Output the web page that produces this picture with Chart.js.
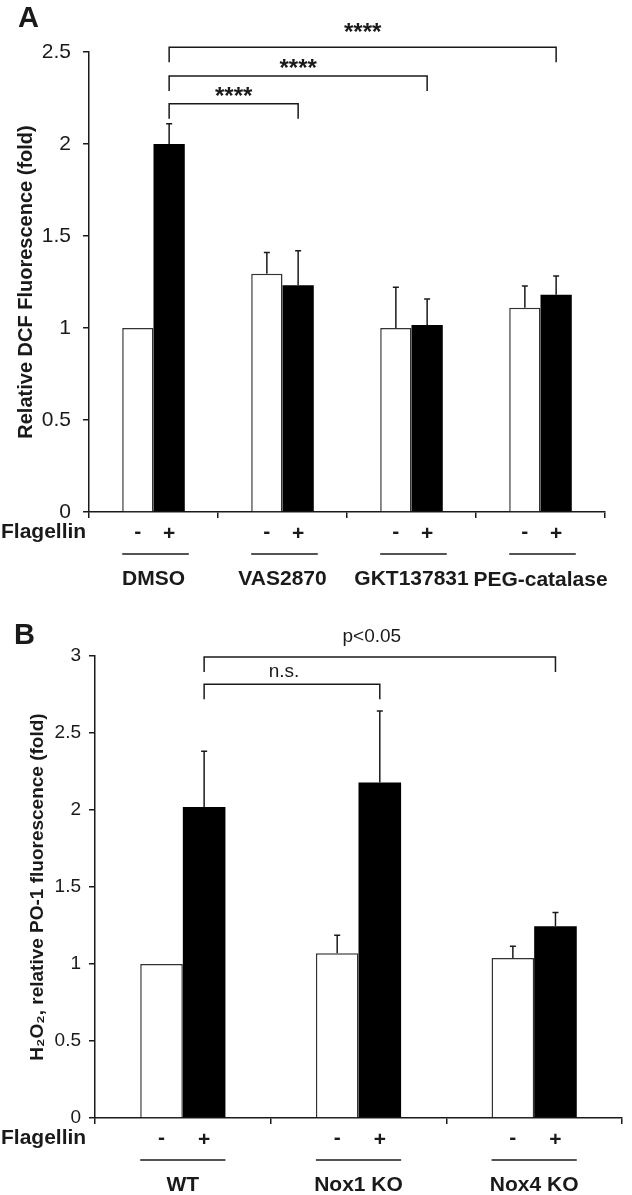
<!DOCTYPE html>
<html>
<head>
<meta charset="utf-8">
<script src="https://cdn.jsdelivr.net/npm/chart.js@4.4.1/dist/chart.umd.min.js"></script>
<style>
  html, body { margin: 0; padding: 0; background: #fff; }
  #wrap { position: relative; width: 632px; height: 1195px; }
  canvas { position: absolute; left: 0; }
  #chartA { top: 0; }
  #chartB { top: 590px; }
</style>
</head>
<body>
<div id="wrap">
  <canvas id="chartA" width="632" height="590"></canvas>
  <canvas id="chartB" width="632" height="605"></canvas>
</div>
<script>
// Panel A – DCF fluorescence, inhibitors
const groupsA = ['DMSO', 'VAS2870', 'GKT137831', 'PEG-catalase'];
const minusA = [1.0, 1.295, 1.0, 1.11];
const plusA = [2.0, 1.232, 1.016, 1.181];
const minusErrA = [0, 0.115, 0.221, 0.118];
const plusErrA = [0.11, 0.188, 0.142, 0.102];
const ticksA = [0, 0.5, 1, 1.5, 2, 2.5];
const bracketToA = [1, 2, 3];          // compared against DMSO +
const bracketLevelA = [2.219, 2.37, 2.526];
const textLevelA = [2.288, 2.435, 2.632];
const bracketTextA = ['****', '****', '****'];

// Panel B – PO-1 fluorescence, knockouts
const groupsB = ['WT', 'Nox1 KO', 'Nox4 KO'];
const minusB = [1.0, 1.07, 1.039];
const plusB = [2.02, 2.178, 1.245];
const minusErrB = [0, 0.116, 0.076];
const plusErrB = [0.361, 0.465, 0.089];
const ticksB = [0, 0.5, 1, 1.5, 2, 2.5, 3];
const bracketToB = [1, 2];             // compared against WT +
const bracketLevelB = [2.816, 2.994];
const textLevelB = [2.896, 3.123];
const bracketTextB = ['n.s.', 'p<0.05'];

const INK = '#1a1a1a';
const FONT = "'Liberation Sans', Arial, Helvetica, sans-serif";
Chart.defaults.font.family = FONT;
Chart.defaults.color = INK;

function centeredText(ctx, text, x, cy) {
    const m = ctx.measureText(text);
    const base = cy + (m.actualBoundingBoxAscent - m.actualBoundingBoxDescent) / 2;
    ctx.textBaseline = 'alphabetic';
    ctx.fillText(text, x, base);
}

function overlayPlugin(p) {
    return {
        id: 'overlay' + p.name,
        afterDatasetsDraw(chart) {
            const ctx = chart.ctx;
            const xs = chart.scales.x, ys = chart.scales.y;
            const minusBars = chart.getDatasetMeta(0).data;
            const plusBars = chart.getDatasetMeta(1).data;
            ctx.save();
            ctx.strokeStyle = INK;
            ctx.fillStyle = INK;
            ctx.lineWidth = 1.5;

            // upper error bars
            [[minusBars, p.minus, p.minusErr], [plusBars, p.plus, p.plusErr]].forEach(([bars, vals, errs]) => {
                bars.forEach((bar, i) => {
                    if (!errs[i]) return;
                    const top = ys.getPixelForValue(vals[i] + errs[i]);
                    ctx.beginPath();
                    ctx.moveTo(bar.x, bar.y);
                    ctx.lineTo(bar.x, top);
                    ctx.moveTo(bar.x - 3, top);
                    ctx.lineTo(bar.x + 3, top);
                    ctx.stroke();
                });
            });

            // significance brackets
            const x0 = plusBars[0].x;
            p.bracketTo.forEach((to, i) => {
                const x1 = plusBars[to].x;
                const yb = ys.getPixelForValue(p.bracketLevel[i]);
                ctx.beginPath();
                ctx.moveTo(x0, yb + 15);
                ctx.lineTo(x0, yb);
                ctx.lineTo(x1, yb);
                ctx.lineTo(x1, yb + 15);
                ctx.stroke();
                ctx.font = p.starFont;
                ctx.textAlign = 'center';
                centeredText(ctx, p.bracketText[i], (x0 + x1) / 2 + p.textShift, ys.getPixelForValue(p.textLevel[i]));
            });

            // treatment rows under the axis
            const axisY = ys.bottom;
            ctx.font = 'bold 21px ' + FONT;
            ctx.textAlign = 'left';
            centeredText(ctx, 'Flagellin', 1, axisY + 20);
            ctx.textAlign = 'center';
            minusBars.forEach((bar, i) => {
                const pb = plusBars[i];
                centeredText(ctx, '-', bar.x, axisY + 20);
                centeredText(ctx, '+', pb.x, axisY + 20);
                ctx.beginPath();
                ctx.moveTo(bar.x - bar.width / 2, axisY + 42);
                ctx.lineTo(pb.x + pb.width / 2 + p.lineExtra, axisY + 42);
                ctx.stroke();
                centeredText(ctx, p.groups[i], xs.getPixelForValue(i), axisY + 66);
            });

            // panel letter
            ctx.font = 'bold 29px ' + FONT;
            ctx.textAlign = 'left';
            centeredText(ctx, p.name, p.letterX, p.letterY);
            ctx.restore();
        }
    };
}

function buildChart(id, p) {
    const ctx = document.getElementById(id).getContext('2d');
    return new Chart(ctx, {
        type: 'bar',
        data: {
            labels: p.groups,
            datasets: [
                { label: '-', data: p.minus, backgroundColor: '#ffffff', borderColor: '#333', borderWidth: 1.5 },
                { label: '+', data: p.plus, backgroundColor: '#000000', borderColor: '#000', borderWidth: 0 }
            ]
        },
        options: {
            responsive: false,
            animation: false,
            devicePixelRatio: 1,
            layout: { padding: { top: p.padTop, right: p.padRight, left: 0, bottom: 0 } },
            datasets: { bar: { categoryPercentage: 0.485, barPercentage: 1.0 } },
            scales: {
                x: {
                    grid: { offset: true, drawOnChartArea: false, drawTicks: true, tickLength: 6, color: INK, lineWidth: 1.5 },
                    border: { color: INK, width: 1.5 },
                    ticks: { display: false },
                    afterFit: s => { s.height = p.xHeight; }
                },
                y: {
                    min: 0,
                    max: p.ticks[p.ticks.length - 1],
                    afterBuildTicks: s => { s.ticks = p.ticks.map(v => ({ value: v })); },
                    grid: { drawOnChartArea: false, drawTicks: true, tickLength: 6, color: INK, lineWidth: 1.5 },
                    border: { color: INK, width: 1.5 },
                    ticks: { font: { size: p.tickSize }, color: INK, padding: p.tickPad, callback: v => String(v) },
                    title: {
                        display: true,
                        text: p.title,
                        font: { size: p.titleSize, weight: 'bold' },
                        color: INK,
                        padding: { top: p.titlePad, bottom: 0 }
                    },
                    afterFit: s => { s.width = p.yWidth; }
                }
            },
            plugins: { legend: { display: false }, tooltip: { enabled: false } }
        },
        plugins: [overlayPlugin(p)]
    });
}

buildChart('chartA', {
    name: 'A', groups: groupsA, minus: minusA, plus: plusA,
    minusErr: minusErrA, plusErr: plusErrA, ticks: ticksA,
    bracketTo: bracketToA, bracketLevel: bracketLevelA, textLevel: textLevelA, bracketText: bracketTextA,
    starFont: 'bold 24px ' + FONT, textShift: 0, lineExtra: 4,
    title: 'Relative DCF Fluorescence (fold)', titleSize: 20, titlePad: 14,
    tickSize: 21, tickPad: 12, yWidth: 89, xHeight: 78, padTop: 52, padRight: 27,
    letterX: 18, letterY: 17
});

buildChart('chartB', {
    name: 'B', groups: groupsB, minus: minusB, plus: plusB,
    minusErr: minusErrB, plusErr: plusErrB, ticks: ticksB,
    bracketTo: bracketToB, bracketLevel: bracketLevelB, textLevel: textLevelB, bracketText: bracketTextB,
    starFont: '19px ' + FONT, textShift: -8, lineExtra: 0,
    title: 'H\u2082O\u2082, relative PO-1 fluorescence (fold)', titleSize: 19, titlePad: 26,
    tickSize: 19, tickPad: 8, yWidth: 95, xHeight: 77, padTop: 66, padRight: 10,
    letterX: 14, letterY: 44
});
</script>
</body>
</html>
